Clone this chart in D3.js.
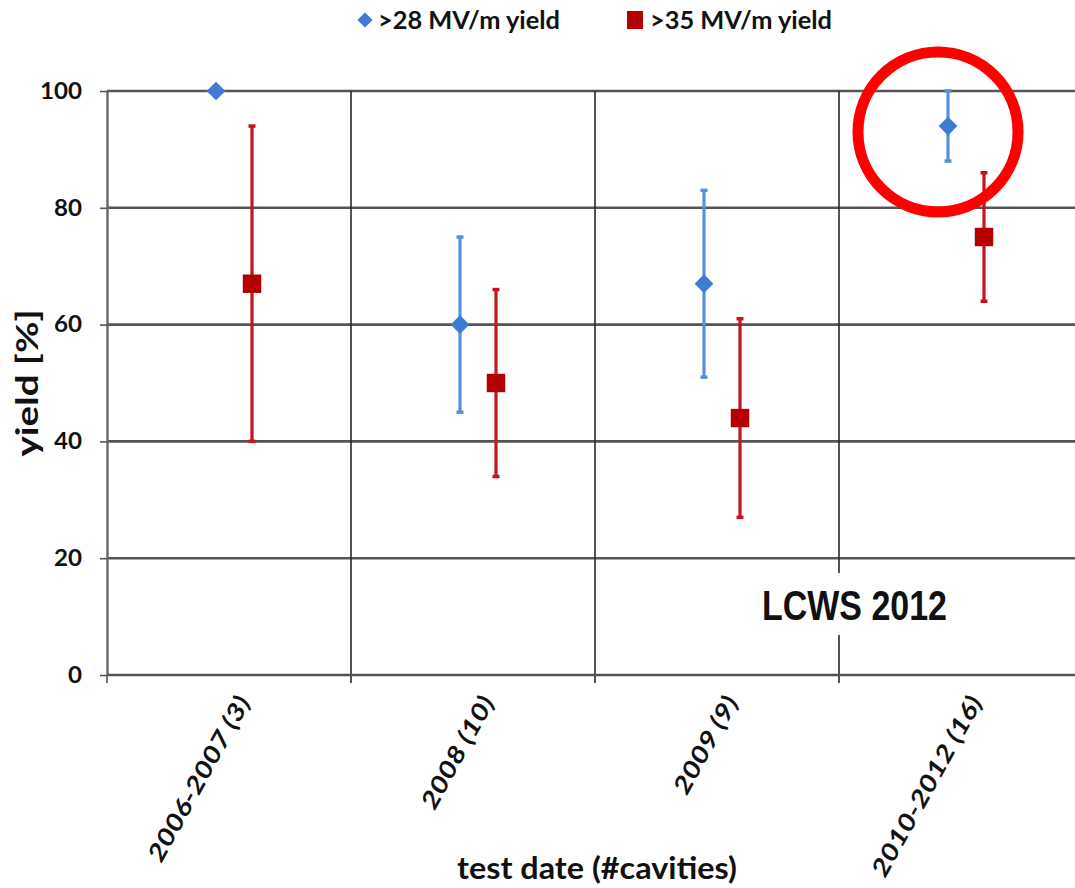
<!DOCTYPE html>
<html>
<head>
<meta charset="utf-8">
<script src="https://cdn.jsdelivr.net/npm/d3@7"></script>
<style>
  body { margin: 0; background: #fff; }
  svg text { font-family: Lato, "Open Sans", sans-serif; font-weight: bold; fill: #111; }
</style>
</head>
<body>
<svg id="chart" width="1075" height="888"></svg>
<script>
// test periods (number of cavities)
var categories = ["2006-2007 (3)", "2008 (10)", "2009 (9)", "2010-2012 (16)"];
// >28 MV/m yield and its error range
var yield28   = [100, 60, 67, 94];
var yield28Lo = [100, 45, 51, 88];
var yield28Hi = [100, 75, 83, 100];
// >35 MV/m yield and its error range
var yield35   = [67, 50, 44, 75];
var yield35Lo = [40, 34, 27, 64];
var yield35Hi = [94, 66, 61, 86];
var yTicks = [0, 20, 40, 60, 80, 100];
var seriesNames = [">28 MV/m yield", ">35 MV/m yield"];

var svg = d3.select("#chart");
var W = 1075;
var x = d3.scaleBand().domain(categories).range([107, 1083]);
var y = d3.scaleLinear().domain([0, 100]).range([675, 91]);

var blue = "#3f7bd2", blueBar = "#5a8fdc",
    red = "#b40000", redBar = "#c4141c";

// horizontal grid
svg.selectAll(".hgrid").data(yTicks.slice(1)).enter().append("line")
    .attr("x1", 107).attr("x2", W)
    .attr("y1", function(d){ return y(d) }).attr("y2", function(d){ return y(d) })
    .attr("stroke", "#555").attr("stroke-width", 2.6)

// category separators
svg.selectAll(".vgrid").data(categories.slice(1)).enter().append("line")
    .attr("x1", function(d){ return x(d) }).attr("x2", function(d){ return x(d) })
    .attr("y1", y(100)).attr("y2", y(0) + 8)
    .attr("stroke", "#2a2a2a").attr("stroke-width", 1.6)

// y axis
var yAxis = svg.append("g").attr("transform", "translate(107,0)")
    .call(d3.axisLeft(y).tickValues(yTicks).tickSize(7).tickSizeOuter(0).tickPadding(18))
yAxis.select(".domain").attr("stroke", "#666").attr("stroke-width", 2.4)
yAxis.selectAll(".tick line").attr("stroke", "#555").attr("stroke-width", 1.6)
yAxis.selectAll(".tick text").style("font-size", "23px").attr("fill", "#111")
    .style("font-family", "Lato").style("font-weight", "bold")
    .attr("textLength", function(){ return this.getComputedTextLength() * 1.05 })
    .attr("lengthAdjust", "spacingAndGlyphs")

// bottom axis line + boundary ticks
svg.append("line").attr("x1", 107).attr("x2", W).attr("y1", y(0)).attr("y2", y(0))
    .attr("stroke", "#555").attr("stroke-width", 2.6)
svg.append("line").attr("x1", 107).attr("x2", 107).attr("y1", y(0)).attr("y2", y(0) + 8)
    .attr("stroke", "#555").attr("stroke-width", 1.6)

// LCWS label with white box
svg.append("rect").attr("x", 752).attr("y", 573).attr("width", 206).attr("height", 62).attr("fill", "#fff")
svg.append("text").attr("x", 762).attr("y", 620)
    .style("font-family", "'Liberation Sans', Arial, sans-serif").style("font-size", "42px")
    .attr("textLength", 185).attr("lengthAdjust", "spacingAndGlyphs")
    .text("LCWS 2012")

// x tick labels
var xl = svg.selectAll(".xlab").data(categories).enter().append("text")
    .attr("text-anchor", "end")
    .style("font-size", "24px").style("font-style", "italic")
    .attr("transform", function(d){
        return "translate(" + (x(d) + x.bandwidth()/2 + 22) + ",702) rotate(-61)"
    })
    .text(function(d){ return d })
var k = 185 / xl.node().getComputedTextLength();
xl.attr("textLength", function(){ return this.getComputedTextLength() * k })
  .attr("lengthAdjust", "spacingAndGlyphs")

// axis titles
svg.append("text").attr("x", 597).attr("y", 879).attr("text-anchor", "middle")
    .style("font-size", "30px").attr("textLength", 280).attr("lengthAdjust", "spacingAndGlyphs")
    .text("test date (#cavities)")
svg.append("text").attr("transform", "translate(38,383) rotate(-90)").attr("text-anchor", "middle")
    .style("font-size", "30px").attr("textLength", 147).attr("lengthAdjust", "spacingAndGlyphs")
    .text("yield [%]")

// error bars
function errBars(vals, lo, hi, dx, col){
    var g = svg.append("g")
    categories.forEach(function(c, i){
        var cx = x(c) + x.bandwidth()/2 + dx
        if (hi[i] === lo[i]) return;
        g.append("line").attr("x1", cx).attr("x2", cx).attr("y1", y(hi[i])).attr("y2", y(lo[i]))
            .attr("stroke", col).attr("stroke-width", 3.2)
        ;[hi[i], lo[i]].forEach(function(v){
            g.append("line").attr("x1", cx - 3.5).attr("x2", cx + 3.5).attr("y1", y(v)).attr("y2", y(v))
                .attr("stroke", col).attr("stroke-width", 3.5)
        })
    })
}
errBars(yield28, yield28Lo, yield28Hi, -13, blueBar)
errBars(yield35, yield35Lo, yield35Hi, 23, redBar)

// markers
svg.selectAll(".dia").data(yield28).enter().append("path")
    .attr("d", d3.symbol(d3.symbolSquare, 175))
    .attr("transform", function(d, i){
        return "translate(" + (x(categories[i]) + x.bandwidth()/2 - 13) + "," + y(d) + ") rotate(45)"
    })
    .attr("fill", blue)
svg.selectAll(".sq").data(yield35).enter().append("path")
    .attr("d", d3.symbol(d3.symbolSquare, 340))
    .attr("transform", function(d, i){
        return "translate(" + (x(categories[i]) + x.bandwidth()/2 + 23) + "," + y(d) + ")"
    })
    .attr("fill", red)

// legend
svg.append("path").attr("d", d3.symbol(d3.symbolSquare, 115))
    .attr("transform", "translate(365,20) rotate(45)").attr("fill", blue)
svg.append("text").attr("x", 378).attr("y", 29).style("font-size", "24px")
    .attr("textLength", 182).attr("lengthAdjust", "spacingAndGlyphs").text(seriesNames[0])
svg.append("rect").attr("x", 627).attr("y", 11).attr("width", 16).attr("height", 18).attr("fill", red)
svg.append("text").attr("x", 650).attr("y", 29).style("font-size", "24px")
    .attr("textLength", 182).attr("lengthAdjust", "spacingAndGlyphs").text(seriesNames[1])

// highlight circle round the 2010-2012 >28 MV/m point
svg.append("circle")
    .attr("cx", x(categories[3]) + x.bandwidth()/2 - 23).attr("cy", y(93))
    .attr("r", 80).attr("fill", "none").attr("stroke", "#ff0000").attr("stroke-width", 11)
</script>
</body>
</html>
